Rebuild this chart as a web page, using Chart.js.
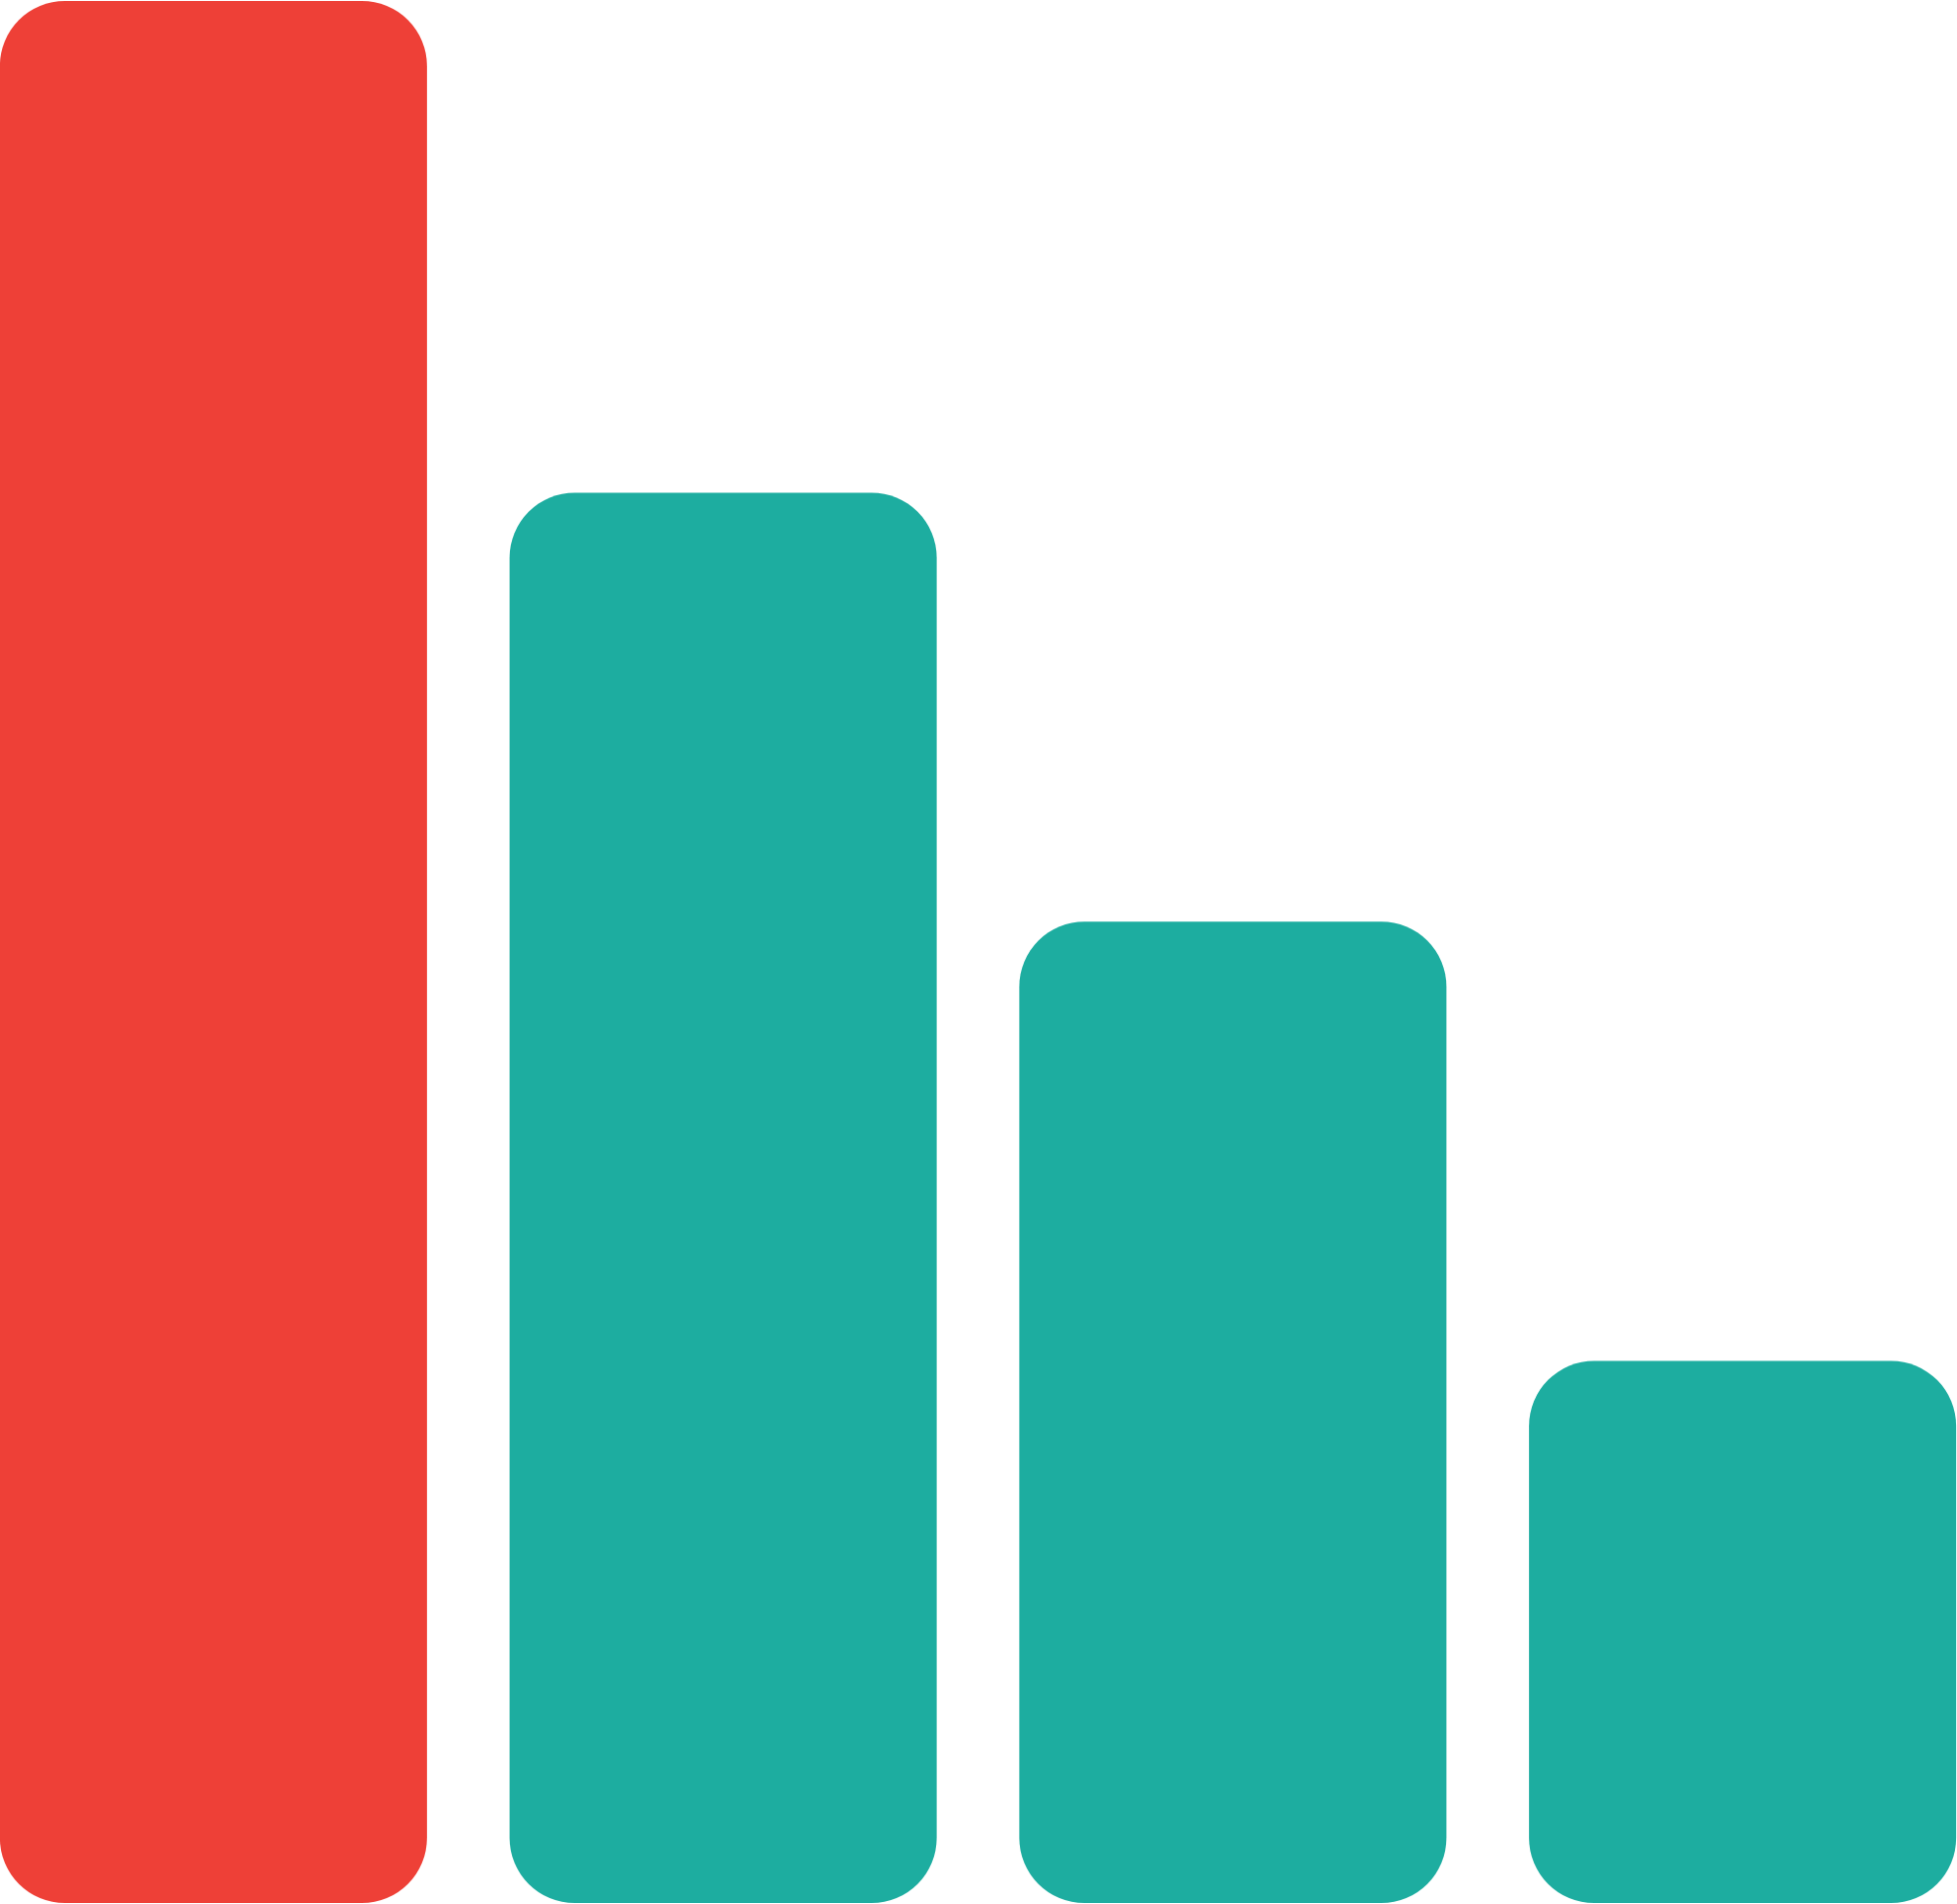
<!DOCTYPE html>
<html>
<head>
<meta charset="utf-8">
<script src="https://cdn.jsdelivr.net/npm/chart.js@4"></script>
<style>
  html, body { margin: 0; padding: 0; background: #fff; overflow: hidden; }
  #wrap { position: absolute; left: -42px; top: 0; }
</style>
</head>
<body>
<div id="wrap"><canvas id="chart" width="2067" height="1930"></canvas></div>
<script>
const labels = ['A', 'B', 'C', 'D'];
const values = [100, 74.15, 51.6, 28.5];
const barColors = ['#EE4037', '#1DADA0', '#1DADA0', '#1DADA0'];

const chart = new Chart(document.getElementById('chart'), {
  type: 'bar',
  data: {
    labels: labels,
    datasets: [{
      data: values,
      backgroundColor: barColors,
      borderWidth: 0,
      borderRadius: 66,
      borderSkipped: false,
      barPercentage: 0.838,
      categoryPercentage: 1
    }]
  },
  options: {
    responsive: false,
    animation: false,
    devicePixelRatio: 1,
    layout: { padding: { top: 1, bottom: 1, left: 0, right: 0 } },
    plugins: { legend: { display: false }, tooltip: { enabled: false } },
    scales: {
      x: { display: false },
      y: { display: false, min: 0, max: 100 }
    }
  }
});
</script>
</body>
</html>
